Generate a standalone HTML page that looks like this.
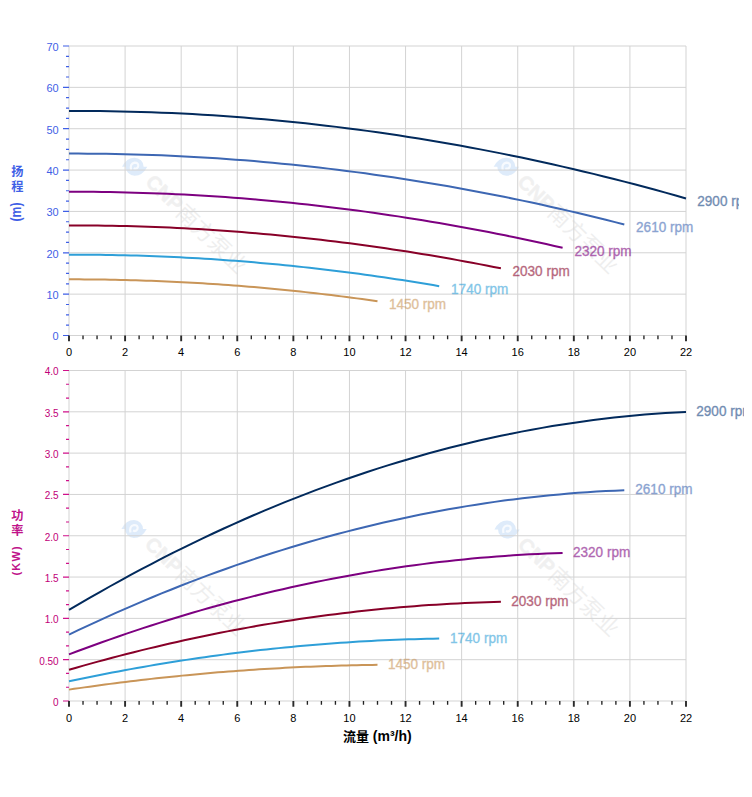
<!DOCTYPE html>
<html><head><meta charset="utf-8"><title>Pump curves</title>
<style>html,body{margin:0;padding:0;background:#fff;}svg{display:block;}</style>
</head><body>
<svg width="752" height="797" viewBox="0 0 752 797">
<defs><clipPath id="ct"><rect x="0" y="0" width="739" height="360"/></clipPath><clipPath id="cb"><rect x="0" y="360" width="744" height="437"/></clipPath></defs>
<rect width="752" height="797" fill="#fff"/>
<g font-family="Liberation Sans, Arial, sans-serif">
<g transform="translate(134.6,166.7)">
<path d="M-12.6,0 Q-8,-9 0,-9 A9,9 0 0 1 9,0 Q9,0 12.7,0 Q8,9 0,9 A9,9 0 0 1 -9,0 Z" fill="#4a90e2" opacity="0.18"/>
<path d="M-3.5,3.5 Q-5,-3 0,-4 Q4.5,-4 3.5,0 Q2,3 -1,1.5" fill="none" stroke="#fff" stroke-width="2.2" opacity="0.75"/>
<g transform="rotate(44)">
<text x="18.5" y="5" font-size="20" font-weight="bold" fill="#666" stroke="#666" stroke-width="0.6" opacity="0.09" font-family="Liberation Sans, sans-serif">CNP</text>
<text x="61.5" y="6.2" font-size="22" fill="#666" opacity="0.1" font-family="Noto Sans CJK SC, sans-serif">南方泵业</text>
</g></g>
<g transform="translate(506.3,166.7)">
<path d="M-12.6,0 Q-8,-9 0,-9 A9,9 0 0 1 9,0 Q9,0 12.7,0 Q8,9 0,9 A9,9 0 0 1 -9,0 Z" fill="#4a90e2" opacity="0.18"/>
<path d="M-3.5,3.5 Q-5,-3 0,-4 Q4.5,-4 3.5,0 Q2,3 -1,1.5" fill="none" stroke="#fff" stroke-width="2.2" opacity="0.75"/>
<g transform="rotate(44)">
<text x="18.5" y="5" font-size="20" font-weight="bold" fill="#666" stroke="#666" stroke-width="0.6" opacity="0.09" font-family="Liberation Sans, sans-serif">CNP</text>
<text x="61.5" y="6.2" font-size="22" fill="#666" opacity="0.1" font-family="Noto Sans CJK SC, sans-serif">南方泵业</text>
</g></g>
<g transform="translate(134,529)">
<path d="M-12.6,0 Q-8,-9 0,-9 A9,9 0 0 1 9,0 Q9,0 12.7,0 Q8,9 0,9 A9,9 0 0 1 -9,0 Z" fill="#4a90e2" opacity="0.18"/>
<path d="M-3.5,3.5 Q-5,-3 0,-4 Q4.5,-4 3.5,0 Q2,3 -1,1.5" fill="none" stroke="#fff" stroke-width="2.2" opacity="0.75"/>
<g transform="rotate(44)">
<text x="18.5" y="5" font-size="20" font-weight="bold" fill="#666" stroke="#666" stroke-width="0.6" opacity="0.09" font-family="Liberation Sans, sans-serif">CNP</text>
<text x="61.5" y="6.2" font-size="22" fill="#666" opacity="0.1" font-family="Noto Sans CJK SC, sans-serif">南方泵业</text>
</g></g>
<g transform="translate(507,529.5)">
<path d="M-12.6,0 Q-8,-9 0,-9 A9,9 0 0 1 9,0 Q9,0 12.7,0 Q8,9 0,9 A9,9 0 0 1 -9,0 Z" fill="#4a90e2" opacity="0.18"/>
<path d="M-3.5,3.5 Q-5,-3 0,-4 Q4.5,-4 3.5,0 Q2,3 -1,1.5" fill="none" stroke="#fff" stroke-width="2.2" opacity="0.75"/>
<g transform="rotate(44)">
<text x="18.5" y="5" font-size="20" font-weight="bold" fill="#666" stroke="#666" stroke-width="0.6" opacity="0.09" font-family="Liberation Sans, sans-serif">CNP</text>
<text x="61.5" y="6.2" font-size="22" fill="#666" opacity="0.1" font-family="Noto Sans CJK SC, sans-serif">南方泵业</text>
</g></g>
<path d="M69,335.5H686M69,294.14H686M69,252.79H686M69,211.43H686M69,170.07H686M69,128.71H686M69,87.36H686M69,46H686M69,46V335.5M125.09,46V335.5M181.18,46V335.5M237.27,46V335.5M293.36,46V335.5M349.45,46V335.5M405.55,46V335.5M461.64,46V335.5M517.73,46V335.5M573.82,46V335.5M629.91,46V335.5M686,46V335.5" stroke="#d3d3d3" stroke-width="1" fill="none"/>
<path d="M63,335.5H69M66,325.16H69M66,314.82H69M66,304.48H69M63,294.14H69M66,283.8H69M66,273.46H69M66,263.12H69M63,252.79H69M66,242.45H69M66,232.11H69M66,221.77H69M63,211.43H69M66,201.09H69M66,190.75H69M66,180.41H69M63,170.07H69M66,159.73H69M66,149.39H69M66,139.05H69M63,128.71H69M66,118.37H69M66,108.04H69M66,97.7H69M63,87.36H69M66,77.02H69M66,66.68H69M66,56.34H69M63,46H69" stroke="#3f5fe6" stroke-width="1.2" fill="none"/>
<text x="58.7" y="340" font-size="11" fill="#3f5fe6" text-anchor="end">0</text>
<text x="58.7" y="299" font-size="11" fill="#3f5fe6" text-anchor="end">10</text>
<text x="58.7" y="258" font-size="11" fill="#3f5fe6" text-anchor="end">20</text>
<text x="58.7" y="216" font-size="11" fill="#3f5fe6" text-anchor="end">30</text>
<text x="58.7" y="175" font-size="11" fill="#3f5fe6" text-anchor="end">40</text>
<text x="58.7" y="134" font-size="11" fill="#3f5fe6" text-anchor="end">50</text>
<text x="58.7" y="92" font-size="11" fill="#3f5fe6" text-anchor="end">60</text>
<text x="58.7" y="51" font-size="11" fill="#3f5fe6" text-anchor="end">70</text>
<path d="M69,335.5v5.8M125.09,335.5v5.8M181.18,335.5v5.8M237.27,335.5v5.8M293.36,335.5v5.8M349.45,335.5v5.8M405.55,335.5v5.8M461.64,335.5v5.8M517.73,335.5v5.8M573.82,335.5v5.8M629.91,335.5v5.8M686,335.5v5.8" stroke="#2a2a2a" stroke-width="1.9" fill="none"/>
<path d="M83.02,335.5v3.8M97.05,335.5v3.8M111.07,335.5v3.8M139.11,335.5v3.8M153.14,335.5v3.8M167.16,335.5v3.8M195.2,335.5v3.8M209.23,335.5v3.8M223.25,335.5v3.8M251.3,335.5v3.8M265.32,335.5v3.8M279.34,335.5v3.8M307.39,335.5v3.8M321.41,335.5v3.8M335.43,335.5v3.8M363.48,335.5v3.8M377.5,335.5v3.8M391.52,335.5v3.8M419.57,335.5v3.8M433.59,335.5v3.8M447.61,335.5v3.8M475.66,335.5v3.8M489.68,335.5v3.8M503.7,335.5v3.8M531.75,335.5v3.8M545.77,335.5v3.8M559.8,335.5v3.8M587.84,335.5v3.8M601.86,335.5v3.8M615.89,335.5v3.8M643.93,335.5v3.8M657.95,335.5v3.8M671.98,335.5v3.8" stroke="#222" stroke-width="1.35" fill="none"/>
<text x="69" y="356" font-size="11" fill="#000" text-anchor="middle">0</text>
<text x="125.09" y="356" font-size="11" fill="#000" text-anchor="middle">2</text>
<text x="181.18" y="356" font-size="11" fill="#000" text-anchor="middle">4</text>
<text x="237.27" y="356" font-size="11" fill="#000" text-anchor="middle">6</text>
<text x="293.36" y="356" font-size="11" fill="#000" text-anchor="middle">8</text>
<text x="349.45" y="356" font-size="11" fill="#000" text-anchor="middle">10</text>
<text x="405.55" y="356" font-size="11" fill="#000" text-anchor="middle">12</text>
<text x="461.64" y="356" font-size="11" fill="#000" text-anchor="middle">14</text>
<text x="517.73" y="356" font-size="11" fill="#000" text-anchor="middle">16</text>
<text x="573.82" y="356" font-size="11" fill="#000" text-anchor="middle">18</text>
<text x="629.91" y="356" font-size="11" fill="#000" text-anchor="middle">20</text>
<text x="686" y="356" font-size="11" fill="#000" text-anchor="middle">22</text>
<g clip-path="url(#ct)">
<path d="M69,110.95 L79.28,110.94 L89.57,110.98 L99.85,111.07 L110.13,111.21 L120.42,111.4 L130.7,111.64 L140.98,111.93 L151.27,112.27 L161.55,112.66 L171.83,113.09 L182.12,113.58 L192.4,114.12 L202.68,114.71 L212.97,115.35 L223.25,116.03 L233.53,116.77 L243.82,117.56 L254.1,118.39 L264.38,119.28 L274.67,120.22 L284.95,121.2 L295.23,122.24 L305.52,123.32 L315.8,124.46 L326.08,125.64 L336.37,126.88 L346.65,128.16 L356.93,129.49 L367.22,130.88 L377.5,132.31 L387.78,133.79 L398.07,135.33 L408.35,136.91 L418.63,138.54 L428.92,140.22 L439.2,141.95 L449.48,143.74 L459.77,145.57 L470.05,147.45 L480.33,149.38 L490.62,151.36 L500.9,153.39 L511.18,155.47 L521.47,157.6 L531.75,159.78 L542.03,162.01 L552.32,164.29 L562.6,166.62 L572.88,168.99 L583.17,171.42 L593.45,173.9 L603.73,176.43 L614.02,179.01 L624.3,181.63 L634.58,184.31 L644.87,187.04 L655.15,189.81 L665.43,192.64 L675.72,195.52 L686,198.44" stroke="#022a5c" stroke-width="2" fill="none" stroke-linejoin="round"/>
<text x="697.3" y="206" font-size="14" textLength="57.2" lengthAdjust="spacingAndGlyphs" fill="#0e4080" stroke="#0e4080" stroke-width="0.35" opacity="0.6">2900 rpm</text>
<path d="M69,153.61 L78.25,153.6 L87.51,153.64 L96.77,153.71 L106.02,153.82 L115.28,153.98 L124.53,154.17 L133.79,154.41 L143.04,154.68 L152.3,155 L161.55,155.35 L170.81,155.75 L180.06,156.18 L189.32,156.66 L198.57,157.17 L207.83,157.73 L217.08,158.33 L226.34,158.97 L235.59,159.64 L244.84,160.36 L254.1,161.12 L263.36,161.92 L272.61,162.76 L281.87,163.64 L291.12,164.55 L300.38,165.51 L309.63,166.51 L318.88,167.55 L328.14,168.63 L337.4,169.76 L346.65,170.92 L355.91,172.12 L365.16,173.36 L374.41,174.64 L383.67,175.96 L392.93,177.33 L402.18,178.73 L411.44,180.17 L420.69,181.65 L429.95,183.18 L439.2,184.74 L448.46,186.35 L457.71,187.99 L466.97,189.68 L476.22,191.4 L485.48,193.17 L494.73,194.97 L503.99,196.82 L513.24,198.7 L522.5,200.63 L531.75,202.6 L541.01,204.6 L550.26,206.65 L559.52,208.74 L568.77,210.87 L578.02,213.04 L587.28,215.24 L596.54,217.49 L605.79,219.78 L615.05,222.11 L624.3,224.48" stroke="#3d67b3" stroke-width="2" fill="none" stroke-linejoin="round"/>
<text x="636.1" y="232" font-size="14" textLength="57.2" lengthAdjust="spacingAndGlyphs" fill="#3d67b3" stroke="#3d67b3" stroke-width="0.35" opacity="0.6">2610 rpm</text>
<path d="M69,191.79 L77.23,191.78 L85.45,191.81 L93.68,191.86 L101.91,191.95 L110.13,192.08 L118.36,192.23 L126.59,192.41 L134.81,192.63 L143.04,192.88 L151.27,193.16 L159.49,193.47 L167.72,193.82 L175.95,194.19 L184.17,194.6 L192.4,195.04 L200.63,195.51 L208.85,196.02 L217.08,196.55 L225.31,197.12 L233.53,197.72 L241.76,198.35 L249.99,199.01 L258.21,199.71 L266.44,200.43 L274.67,201.19 L282.89,201.98 L291.12,202.8 L299.35,203.66 L307.57,204.54 L315.8,205.46 L324.03,206.41 L332.25,207.39 L340.48,208.4 L348.71,209.45 L356.93,210.52 L365.16,211.63 L373.39,212.77 L381.61,213.94 L389.84,215.15 L398.07,216.38 L406.29,217.65 L414.52,218.95 L422.75,220.28 L430.97,221.64 L439.2,223.04 L447.43,224.47 L455.65,225.92 L463.88,227.41 L472.11,228.94 L480.33,230.49 L488.56,232.08 L496.79,233.69 L505.01,235.34 L513.24,237.03 L521.47,238.74 L529.69,240.48 L537.92,242.26 L546.15,244.07 L554.37,245.91 L562.6,247.78" stroke="#7d0080" stroke-width="2" fill="none" stroke-linejoin="round"/>
<text x="574.4" y="256" font-size="14" textLength="57.2" lengthAdjust="spacingAndGlyphs" fill="#7d0080" stroke="#7d0080" stroke-width="0.35" opacity="0.6">2320 rpm</text>
<path d="M69,225.47 L76.2,225.46 L83.4,225.48 L90.59,225.53 L97.79,225.6 L104.99,225.69 L112.19,225.81 L119.39,225.95 L126.59,226.12 L133.79,226.31 L140.98,226.52 L148.18,226.76 L155.38,227.02 L162.58,227.31 L169.78,227.62 L176.97,227.96 L184.17,228.32 L191.37,228.71 L198.57,229.12 L205.77,229.55 L212.97,230.01 L220.16,230.49 L227.36,231 L234.56,231.53 L241.76,232.09 L248.96,232.67 L256.16,233.27 L263.36,233.9 L270.55,234.56 L277.75,235.23 L284.95,235.94 L292.15,236.66 L299.35,237.41 L306.54,238.19 L313.74,238.99 L320.94,239.81 L328.14,240.66 L335.34,241.54 L342.54,242.43 L349.73,243.35 L356.93,244.3 L364.13,245.27 L371.33,246.27 L378.53,247.29 L385.73,248.33 L392.93,249.4 L400.12,250.49 L407.32,251.61 L414.52,252.75 L421.72,253.91 L428.92,255.1 L436.12,256.32 L443.31,257.56 L450.51,258.82 L457.71,260.11 L464.91,261.42 L472.11,262.75 L479.31,264.11 L486.5,265.5 L493.7,266.91 L500.9,268.34" stroke="#880028" stroke-width="2" fill="none" stroke-linejoin="round"/>
<text x="512.5" y="276" font-size="14" textLength="57.2" lengthAdjust="spacingAndGlyphs" fill="#880028" stroke="#880028" stroke-width="0.35" opacity="0.6">2030 rpm</text>
<path d="M69,254.66 L75.17,254.66 L81.34,254.67 L87.51,254.7 L93.68,254.76 L99.85,254.82 L106.02,254.91 L112.19,255.01 L118.36,255.14 L124.53,255.28 L130.7,255.43 L136.87,255.61 L143.04,255.8 L149.21,256.01 L155.38,256.24 L161.55,256.49 L167.72,256.76 L173.89,257.04 L180.06,257.34 L186.23,257.66 L192.4,258 L198.57,258.35 L204.74,258.73 L210.91,259.12 L217.08,259.52 L223.25,259.95 L229.42,260.4 L235.59,260.86 L241.76,261.34 L247.93,261.84 L254.1,262.35 L260.27,262.89 L266.44,263.44 L272.61,264.01 L278.78,264.59 L284.95,265.2 L291.12,265.82 L297.29,266.47 L303.46,267.12 L309.63,267.8 L315.8,268.5 L321.97,269.21 L328.14,269.94 L334.31,270.69 L340.48,271.46 L346.65,272.24 L352.82,273.04 L358.99,273.86 L365.16,274.7 L371.33,275.56 L377.5,276.43 L383.67,277.32 L389.84,278.23 L396.01,279.16 L402.18,280.11 L408.35,281.07 L414.52,282.05 L420.69,283.05 L426.86,284.07 L433.03,285.11 L439.2,286.16" stroke="#2e9fd8" stroke-width="2" fill="none" stroke-linejoin="round"/>
<text x="451.1" y="294" font-size="14" textLength="57.2" lengthAdjust="spacingAndGlyphs" fill="#2e9fd8" stroke="#2e9fd8" stroke-width="0.35" opacity="0.6">1740 rpm</text>
<path d="M69,279.36 L74.14,279.36 L79.28,279.37 L84.42,279.39 L89.57,279.43 L94.71,279.47 L99.85,279.53 L104.99,279.61 L110.13,279.69 L115.28,279.79 L120.42,279.9 L125.56,280.02 L130.7,280.16 L135.84,280.3 L140.98,280.46 L146.12,280.63 L151.27,280.82 L156.41,281.01 L161.55,281.22 L166.69,281.44 L171.83,281.68 L176.98,281.93 L182.12,282.18 L187.26,282.46 L192.4,282.74 L197.54,283.04 L202.68,283.34 L207.83,283.66 L212.97,284 L218.11,284.34 L223.25,284.7 L228.39,285.07 L233.53,285.46 L238.68,285.85 L243.82,286.26 L248.96,286.68 L254.1,287.11 L259.24,287.56 L264.38,288.02 L269.52,288.49 L274.67,288.97 L279.81,289.47 L284.95,289.97 L290.09,290.49 L295.23,291.03 L300.38,291.57 L305.52,292.13 L310.66,292.7 L315.8,293.28 L320.94,293.87 L326.08,294.48 L331.23,295.1 L336.37,295.73 L341.51,296.38 L346.65,297.03 L351.79,297.7 L356.93,298.38 L362.07,299.08 L367.22,299.78 L372.36,300.5 L377.5,301.24" stroke="#c99558" stroke-width="2" fill="none" stroke-linejoin="round"/>
<text x="388.9" y="309" font-size="14" textLength="57.2" lengthAdjust="spacingAndGlyphs" fill="#c99558" stroke="#c99558" stroke-width="0.35" opacity="0.6">1450 rpm</text>
</g>
<path d="M69,701H686M69,659.69H686M69,618.38H686M69,577.06H686M69,535.75H686M69,494.44H686M69,453.12H686M69,411.81H686M69,370.5H686M69,370.5V701M125.09,370.5V701M181.18,370.5V701M237.27,370.5V701M293.36,370.5V701M349.45,370.5V701M405.55,370.5V701M461.64,370.5V701M517.73,370.5V701M573.82,370.5V701M629.91,370.5V701M686,370.5V701" stroke="#d3d3d3" stroke-width="1" fill="none"/>
<path d="M63,701H69M66,687.23H69M66,673.46H69M63,659.69H69M66,645.92H69M66,632.15H69M63,618.38H69M66,604.6H69M66,590.83H69M63,577.06H69M66,563.29H69M66,549.52H69M63,535.75H69M66,521.98H69M66,508.21H69M63,494.44H69M66,480.67H69M66,466.9H69M63,453.12H69M66,439.35H69M66,425.58H69M63,411.81H69M66,398.04H69M66,384.27H69M63,370.5H69" stroke="#d0108a" stroke-width="1.2" fill="none"/>
<text transform="translate(58.6,706) scale(1,1.0)" font-size="10" fill="#bf0078" text-anchor="end">0</text>
<text transform="translate(58.6,665) scale(1,1.0)" font-size="10" fill="#bf0078" text-anchor="end">0.50</text>
<text transform="translate(58.6,623) scale(1,1.0)" font-size="10" fill="#bf0078" text-anchor="end">1.0</text>
<text transform="translate(58.6,582) scale(1,1.0)" font-size="10" fill="#bf0078" text-anchor="end">1.5</text>
<text transform="translate(58.6,541) scale(1,1.0)" font-size="10" fill="#bf0078" text-anchor="end">2.0</text>
<text transform="translate(58.6,499) scale(1,1.0)" font-size="10" fill="#bf0078" text-anchor="end">2.5</text>
<text transform="translate(58.6,458) scale(1,1.0)" font-size="10" fill="#bf0078" text-anchor="end">3.0</text>
<text transform="translate(58.6,417) scale(1,1.0)" font-size="10" fill="#bf0078" text-anchor="end">3.5</text>
<text transform="translate(58.6,375) scale(1,1.0)" font-size="10" fill="#bf0078" text-anchor="end">4.0</text>
<path d="M69,701v5.8M125.09,701v5.8M181.18,701v5.8M237.27,701v5.8M293.36,701v5.8M349.45,701v5.8M405.55,701v5.8M461.64,701v5.8M517.73,701v5.8M573.82,701v5.8M629.91,701v5.8M686,701v5.8" stroke="#2a2a2a" stroke-width="1.9" fill="none"/>
<path d="M83.02,701v3.8M97.05,701v3.8M111.07,701v3.8M139.11,701v3.8M153.14,701v3.8M167.16,701v3.8M195.2,701v3.8M209.23,701v3.8M223.25,701v3.8M251.3,701v3.8M265.32,701v3.8M279.34,701v3.8M307.39,701v3.8M321.41,701v3.8M335.43,701v3.8M363.48,701v3.8M377.5,701v3.8M391.52,701v3.8M419.57,701v3.8M433.59,701v3.8M447.61,701v3.8M475.66,701v3.8M489.68,701v3.8M503.7,701v3.8M531.75,701v3.8M545.77,701v3.8M559.8,701v3.8M587.84,701v3.8M601.86,701v3.8M615.89,701v3.8M643.93,701v3.8M657.95,701v3.8M671.98,701v3.8" stroke="#222" stroke-width="1.35" fill="none"/>
<text x="69" y="722" font-size="11" fill="#000" text-anchor="middle">0</text>
<text x="125.09" y="722" font-size="11" fill="#000" text-anchor="middle">2</text>
<text x="181.18" y="722" font-size="11" fill="#000" text-anchor="middle">4</text>
<text x="237.27" y="722" font-size="11" fill="#000" text-anchor="middle">6</text>
<text x="293.36" y="722" font-size="11" fill="#000" text-anchor="middle">8</text>
<text x="349.45" y="722" font-size="11" fill="#000" text-anchor="middle">10</text>
<text x="405.55" y="722" font-size="11" fill="#000" text-anchor="middle">12</text>
<text x="461.64" y="722" font-size="11" fill="#000" text-anchor="middle">14</text>
<text x="517.73" y="722" font-size="11" fill="#000" text-anchor="middle">16</text>
<text x="573.82" y="722" font-size="11" fill="#000" text-anchor="middle">18</text>
<text x="629.91" y="722" font-size="11" fill="#000" text-anchor="middle">20</text>
<text x="686" y="722" font-size="11" fill="#000" text-anchor="middle">22</text>
<g clip-path="url(#cb)">
<path d="M69,609.98 L79.28,603.91 L89.57,597.93 L99.85,592.04 L110.13,586.25 L120.42,580.55 L130.7,574.94 L140.98,569.43 L151.27,564.02 L161.55,558.7 L171.83,553.47 L182.12,548.33 L192.4,543.29 L202.68,538.35 L212.97,533.5 L223.25,528.74 L233.53,524.07 L243.82,519.5 L254.1,515.03 L264.38,510.64 L274.67,506.36 L284.95,502.16 L295.23,498.06 L305.52,494.06 L315.8,490.14 L326.08,486.33 L336.37,482.6 L346.65,478.97 L356.93,475.44 L367.22,471.99 L377.5,468.65 L387.78,465.39 L398.07,462.23 L408.35,459.17 L418.63,456.19 L428.92,453.32 L439.2,450.53 L449.48,447.84 L459.77,445.25 L470.05,442.74 L480.33,440.34 L490.62,438.02 L500.9,435.8 L511.18,433.68 L521.47,431.64 L531.75,429.71 L542.03,427.86 L552.32,426.11 L562.6,424.46 L572.88,422.9 L583.17,421.43 L593.45,420.05 L603.73,418.77 L614.02,417.59 L624.3,416.5 L634.58,415.5 L644.87,414.59 L655.15,413.78 L665.43,413.07 L675.72,412.45 L686,411.92" stroke="#022a5c" stroke-width="2" fill="none" stroke-linejoin="round"/>
<text x="696.3" y="416" font-size="14" textLength="57.2" lengthAdjust="spacingAndGlyphs" fill="#0e4080" stroke="#0e4080" stroke-width="0.35" opacity="0.6">2900 rpm</text>
<path d="M69,634.65 L78.25,630.22 L87.51,625.86 L96.77,621.57 L106.02,617.35 L115.28,613.19 L124.53,609.11 L133.79,605.09 L143.04,601.14 L152.3,597.26 L161.55,593.45 L170.81,589.71 L180.06,586.03 L189.32,582.43 L198.57,578.89 L207.83,575.42 L217.08,572.02 L226.34,568.69 L235.59,565.43 L244.84,562.23 L254.1,559.1 L263.36,556.05 L272.61,553.06 L281.87,550.14 L291.12,547.29 L300.38,544.5 L309.63,541.79 L318.88,539.14 L328.14,536.56 L337.4,534.05 L346.65,531.61 L355.91,529.24 L365.16,526.94 L374.41,524.7 L383.67,522.54 L392.93,520.44 L402.18,518.41 L411.44,516.45 L420.69,514.56 L429.95,512.73 L439.2,510.98 L448.46,509.29 L457.71,507.67 L466.97,506.12 L476.22,504.64 L485.48,503.23 L494.73,501.88 L503.99,500.61 L513.24,499.4 L522.5,498.26 L531.75,497.19 L541.01,496.19 L550.26,495.26 L559.52,494.39 L568.77,493.6 L578.02,492.87 L587.28,492.21 L596.54,491.62 L605.79,491.1 L615.05,490.65 L624.3,490.26" stroke="#3d67b3" stroke-width="2" fill="none" stroke-linejoin="round"/>
<text x="635.3" y="494" font-size="14" textLength="57.2" lengthAdjust="spacingAndGlyphs" fill="#3d67b3" stroke="#3d67b3" stroke-width="0.35" opacity="0.6">2610 rpm</text>
<path d="M69,654.4 L77.23,651.29 L85.45,648.23 L93.68,645.21 L101.91,642.25 L110.13,639.33 L118.36,636.46 L126.59,633.64 L134.81,630.87 L143.04,628.14 L151.27,625.46 L159.49,622.83 L167.72,620.25 L175.95,617.72 L184.17,615.24 L192.4,612.8 L200.63,610.41 L208.85,608.07 L217.08,605.78 L225.31,603.54 L233.53,601.34 L241.76,599.2 L249.99,597.1 L258.21,595.04 L266.44,593.04 L274.67,591.09 L282.89,589.18 L291.12,587.32 L299.35,585.51 L307.57,583.75 L315.8,582.03 L324.03,580.37 L332.25,578.75 L340.48,577.18 L348.71,575.66 L356.93,574.19 L365.16,572.76 L373.39,571.38 L381.61,570.05 L389.84,568.77 L398.07,567.54 L406.29,566.36 L414.52,565.22 L422.75,564.13 L430.97,563.09 L439.2,562.1 L447.43,561.15 L455.65,560.26 L463.88,559.41 L472.11,558.61 L480.33,557.86 L488.56,557.16 L496.79,556.5 L505.01,555.89 L513.24,555.33 L521.47,554.82 L529.69,554.36 L537.92,553.95 L546.15,553.58 L554.37,553.26 L562.6,552.99" stroke="#7d0080" stroke-width="2" fill="none" stroke-linejoin="round"/>
<text x="573" y="557" font-size="14" textLength="57.2" lengthAdjust="spacingAndGlyphs" fill="#7d0080" stroke="#7d0080" stroke-width="0.35" opacity="0.6">2320 rpm</text>
<path d="M69,669.78 L76.2,667.7 L83.4,665.65 L90.59,663.63 L97.79,661.64 L104.99,659.69 L112.19,657.76 L119.39,655.87 L126.59,654.02 L133.79,652.19 L140.98,650.4 L148.18,648.64 L155.38,646.91 L162.58,645.21 L169.78,643.55 L176.97,641.91 L184.17,640.31 L191.37,638.75 L198.57,637.21 L205.77,635.71 L212.97,634.24 L220.16,632.8 L227.36,631.39 L234.56,630.02 L241.76,628.68 L248.96,627.37 L256.16,626.09 L263.36,624.84 L270.55,623.63 L277.75,622.45 L284.95,621.3 L292.15,620.19 L299.35,619.1 L306.54,618.05 L313.74,617.03 L320.94,616.04 L328.14,615.09 L335.34,614.17 L342.54,613.28 L349.73,612.42 L356.93,611.59 L364.13,610.8 L371.33,610.04 L378.53,609.31 L385.73,608.61 L392.93,607.95 L400.12,607.31 L407.32,606.71 L414.52,606.15 L421.72,605.61 L428.92,605.11 L436.12,604.64 L443.31,604.2 L450.51,603.79 L457.71,603.42 L464.91,603.07 L472.11,602.76 L479.31,602.49 L486.5,602.24 L493.7,602.03 L500.9,601.85" stroke="#880028" stroke-width="2" fill="none" stroke-linejoin="round"/>
<text x="511.3" y="606" font-size="14" textLength="57.2" lengthAdjust="spacingAndGlyphs" fill="#880028" stroke="#880028" stroke-width="0.35" opacity="0.6">2030 rpm</text>
<path d="M69,681.34 L75.17,680.03 L81.34,678.74 L87.51,677.46 L93.68,676.21 L99.85,674.98 L106.02,673.77 L112.19,672.58 L118.36,671.41 L124.53,670.26 L130.7,669.13 L136.87,668.02 L143.04,666.94 L149.21,665.87 L155.38,664.82 L161.55,663.79 L167.72,662.78 L173.89,661.8 L180.06,660.83 L186.23,659.88 L192.4,658.96 L198.57,658.05 L204.74,657.17 L210.91,656.3 L217.08,655.46 L223.25,654.63 L229.42,653.83 L235.59,653.04 L241.76,652.28 L247.93,651.53 L254.1,650.81 L260.27,650.11 L266.44,649.43 L272.61,648.76 L278.78,648.12 L284.95,647.5 L291.12,646.9 L297.29,646.32 L303.46,645.76 L309.63,645.22 L315.8,644.7 L321.97,644.2 L328.14,643.72 L334.31,643.26 L340.48,642.82 L346.65,642.4 L352.82,642 L358.99,641.62 L365.16,641.27 L371.33,640.93 L377.5,640.61 L383.67,640.32 L389.84,640.04 L396.01,639.78 L402.18,639.55 L408.35,639.33 L414.52,639.14 L420.69,638.96 L426.86,638.81 L433.03,638.67 L439.2,638.56" stroke="#2e9fd8" stroke-width="2" fill="none" stroke-linejoin="round"/>
<text x="450" y="643" font-size="14" textLength="57.2" lengthAdjust="spacingAndGlyphs" fill="#2e9fd8" stroke="#2e9fd8" stroke-width="0.35" opacity="0.6">1740 rpm</text>
<path d="M69,689.62 L74.14,688.86 L79.28,688.12 L84.42,687.38 L89.57,686.66 L94.71,685.94 L99.85,685.24 L104.99,684.55 L110.13,683.88 L115.28,683.21 L120.42,682.56 L125.56,681.92 L130.7,681.29 L135.84,680.67 L140.98,680.06 L146.12,679.47 L151.27,678.88 L156.41,678.31 L161.55,677.75 L166.69,677.21 L171.83,676.67 L176.98,676.15 L182.12,675.63 L187.26,675.13 L192.4,674.64 L197.54,674.17 L202.68,673.7 L207.83,673.25 L212.97,672.8 L218.11,672.37 L223.25,671.96 L228.39,671.55 L233.53,671.15 L238.68,670.77 L243.82,670.4 L248.96,670.04 L254.1,669.69 L259.24,669.36 L264.38,669.03 L269.52,668.72 L274.67,668.42 L279.81,668.13 L284.95,667.85 L290.09,667.58 L295.23,667.33 L300.38,667.09 L305.52,666.86 L310.66,666.64 L315.8,666.43 L320.94,666.24 L326.08,666.05 L331.23,665.88 L336.37,665.72 L341.51,665.57 L346.65,665.44 L351.79,665.31 L356.93,665.2 L362.07,665.1 L367.22,665.01 L372.36,664.93 L377.5,664.86" stroke="#c99558" stroke-width="2" fill="none" stroke-linejoin="round"/>
<text x="387.9" y="669" font-size="14" textLength="57.2" lengthAdjust="spacingAndGlyphs" fill="#c99558" stroke="#c99558" stroke-width="0.35" opacity="0.6">1450 rpm</text>
</g>
</g>
<g fill="#3f5fe6" font-size="13" font-family="Liberation Sans, Noto Sans CJK SC, sans-serif">
<text x="17.3" y="176" text-anchor="middle" font-size="12.2" font-weight="bold" font-family="Noto Sans CJK SC, sans-serif">扬</text>
<text x="17.3" y="191" text-anchor="middle" font-size="12.2" font-weight="bold" font-family="Noto Sans CJK SC, sans-serif">程</text>
<text transform="translate(20.6,212) rotate(-90)" text-anchor="middle" font-weight="bold" font-size="14" letter-spacing="0" textLength="19" lengthAdjust="spacingAndGlyphs">(m)</text>
</g>
<g fill="#c0138a" font-size="13" font-family="Liberation Sans, Noto Sans CJK SC, sans-serif">
<text x="17.3" y="520.4" text-anchor="middle" font-size="12.2" font-weight="bold" font-family="Noto Sans CJK SC, sans-serif">功</text>
<text x="17.3" y="535.4" text-anchor="middle" font-size="12.2" font-weight="bold" font-family="Noto Sans CJK SC, sans-serif">率</text>
<text transform="translate(20.3,560.3) rotate(-90)" text-anchor="middle" font-weight="bold" font-size="11" letter-spacing="1.2">(KW)</text>
</g>
<text x="377.3" y="740.6" text-anchor="middle" font-size="14" font-weight="bold" fill="#000" font-family="Liberation Sans, Noto Sans CJK SC, sans-serif"><tspan font-size="13">流量</tspan> (m³/h)</text>
</svg>
</body></html>
